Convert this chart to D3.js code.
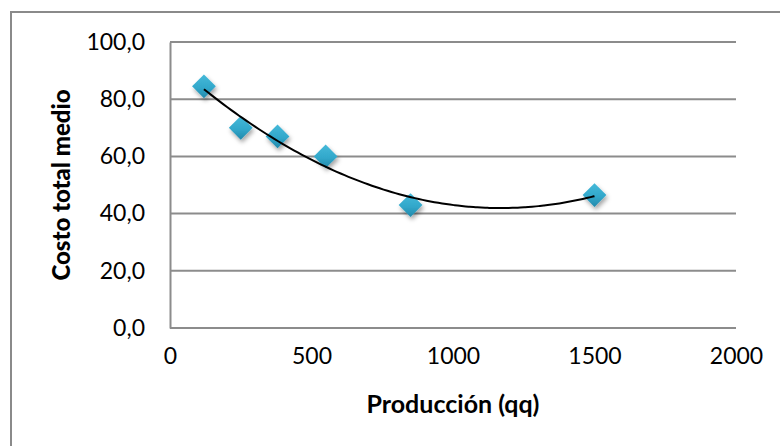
<!DOCTYPE html>
<html>
<head>
<meta charset="utf-8">
<script src="https://cdn.jsdelivr.net/npm/d3@7"></script>
<style>
  body { margin: 0; background: #fff; }
  svg { display: block; }
  .tick text { font-family: Lato, sans-serif; font-size: 23px; fill: #000; }
</style>
</head>
<body>
<div id="chart"></div>
<script>
// data
var produccion = [120, 250, 380, 550, 850, 1500]
var costoMedio = [84.5, 70, 67, 60, 43, 46.5]
var xTicks = [0, 500, 1000, 1500, 2000]
var yTicks = [0, 20, 40, 60, 80, 100]

var width = 780
var height = 446
var margin = {left: 170, right: 44, top: 42, bottom: 118}

var svg = d3.select("#chart")
  .append("svg")
  .attr("width", width)
  .attr("height", height)

// shading for the diamonds
var defs = svg.append("defs")
var grad = defs.append("linearGradient")
  .attr("id", "dgrad")
  .attr("x1", 0).attr("y1", 0).attr("x2", 0).attr("y2", 1)
grad.append("stop").attr("offset", "0%").attr("stop-color", "#45b9d9")
grad.append("stop").attr("offset", "55%").attr("stop-color", "#32a8cb")
grad.append("stop").attr("offset", "100%").attr("stop-color", "#2389ab")
var shadow = defs.append("filter").attr("id", "shadow")
  .attr("x", "-50%").attr("y", "-50%").attr("width", "200%").attr("height", "200%")
shadow.append("feDropShadow")
  .attr("dx", 1.5).attr("dy", 3).attr("stdDeviation", 2)
  .attr("flood-color", "#000").attr("flood-opacity", 0.35)

// outer chart border (runs off the right / bottom edge)
svg.append("rect")
  .attr("x", 11).attr("y", 12)
  .attr("width", 800).attr("height", 460)
  .attr("fill", "none")
  .attr("stroke", "#8a8a8a")
  .attr("stroke-width", 2)

var x = d3.scaleLinear()
  .domain([0, 2000])
  .range([margin.left, width - margin.right])

var y = d3.scaleLinear()
  .domain([0, 100])
  .range([height - margin.bottom, margin.top])

// horizontal gridlines
svg.append("g")
  .selectAll("line")
  .data(yTicks)
  .enter()
  .append("line")
  .attr("x1", x(0))
  .attr("x2", x(2000))
  .attr("y1", function(d){ return y(d) })
  .attr("y2", function(d){ return y(d) })
  .attr("stroke", "#8c8c8c")
  .attr("stroke-width", 2)

// y axis
var yAxis = svg.append("g")
  .attr("transform", "translate(" + x(0) + ",0)")
  .call(d3.axisLeft(y).tickValues(yTicks).tickSize(0).tickPadding(25)
    .tickFormat(function(d){ return d3.format(".1f")(d).replace(".", ",") }))
yAxis.select(".domain").attr("stroke", "#8c8c8c").attr("stroke-width", 2)

// x axis
var xAxis = svg.append("g")
  .attr("transform", "translate(0," + y(0) + ")")
  .call(d3.axisBottom(x).tickValues(xTicks).tickSize(0).tickPadding(20)
    .tickFormat(d3.format("d")))
xAxis.select(".domain").remove()

// axis titles
svg.append("text")
  .attr("x", (x(0) + x(2000)) / 2)
  .attr("y", 413)
  .attr("text-anchor", "middle")
  .style("font-family", "Lato, sans-serif")
  .style("font-weight", "bold")
  .style("font-size", "25px")
  .text("Producción (qq)")

svg.append("text")
  .attr("transform", "translate(70," + ((y(0) + y(100)) / 2) + ") rotate(-90)")
  .attr("text-anchor", "middle")
  .style("font-family", "Lato, sans-serif")
  .style("font-weight", "900")
  .style("font-size", "24px")
  .text("Costo total medio")

// polynomial (order 2) trendline, least squares on the points
function polyFit2(xs, ys){
  var n = xs.length, s = [0,0,0,0,0], t = [0,0,0]
  for (var i = 0; i < n; i++){
    var p = 1
    for (var k = 0; k < 5; k++){ s[k] += p; if (k < 3) t[k] += p * ys[i]; p *= xs[i] }
  }
  var A = [[s[0], s[1], s[2], t[0]], [s[1], s[2], s[3], t[1]], [s[2], s[3], s[4], t[2]]]
  for (var c = 0; c < 3; c++){
    for (var r = c + 1; r < 3; r++){
      var f = A[r][c] / A[c][c]
      for (var j = c; j < 4; j++) A[r][j] -= f * A[c][j]
    }
  }
  var b = [0,0,0]
  for (var r2 = 2; r2 >= 0; r2--){
    var v = A[r2][3]
    for (var j2 = r2 + 1; j2 < 3; j2++) v -= A[r2][j2] * b[j2]
    b[r2] = v / A[r2][r2]
  }
  return b
}
var coef = polyFit2(produccion, costoMedio)
var xMin = d3.min(produccion), xMax = d3.max(produccion)
var trendPts = d3.range(0, 101).map(function(i){
  var xv = xMin + (xMax - xMin) * i / 100
  return [xv, coef[0] + coef[1] * xv + coef[2] * xv * xv]
})

// markers
var diamond = d3.symbol().type(d3.symbolDiamond2).size(360)
svg.append("g")
  .selectAll("path")
  .data(produccion)
  .enter()
  .append("path")
  .attr("d", diamond)
  .attr("transform", function(d, i){ return "translate(" + x(d) + "," + y(costoMedio[i]) + ")" })
  .attr("fill", "url(#dgrad)")
  .attr("filter", "url(#shadow)")

svg.append("path")
  .datum(trendPts)
  .attr("d", d3.line()
    .x(function(d){ return x(d[0]) })
    .y(function(d){ return y(d[1]) })
    .curve(d3.curveBasis))
  .attr("fill", "none")
  .attr("stroke", "#000")
  .attr("stroke-width", 2)
</script>
</body>
</html>
